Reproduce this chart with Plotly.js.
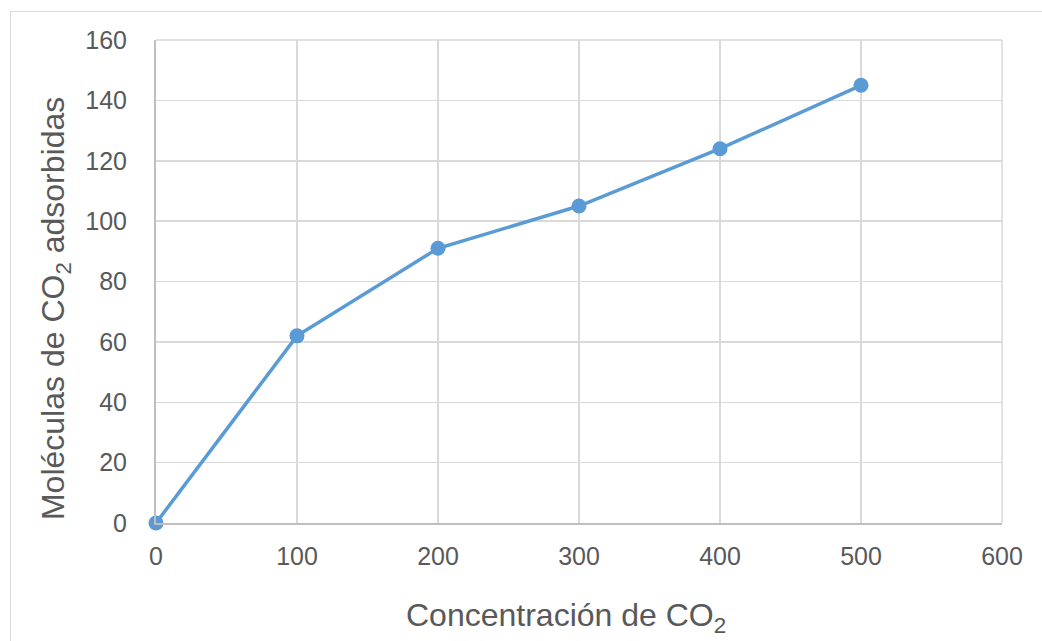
<!DOCTYPE html>
<html>
<head>
<meta charset="utf-8">
<script src="https://cdn.plot.ly/plotly-3.0.1.min.js"></script>
<style>
html,body{margin:0;padding:0;background:#fff;overflow:hidden;}
#frame{position:absolute;left:10px;top:11px;width:1100px;height:700px;border:1.5px solid #d9d9d9;box-sizing:border-box;pointer-events:none;z-index:5;}
#chart{position:absolute;left:0;top:0;width:1042px;height:641px;}
</style>
</head>
<body>
<div id="chart"></div>
<div id="frame"></div>
<script>
const concentracion = [0, 100, 200, 300, 400, 500];
const moleculas = [0, 62, 91, 105, 124, 145];
const xTicks = [0, 100, 200, 300, 400, 500, 600];
const yTicks = [0, 20, 40, 60, 80, 100, 120, 140, 160];
const xTitle = 'Concentración de CO<sub>2</sub>';
const yTitle = 'Moléculas de CO<sub>2</sub> adsorbidas';

const trace = {
  x: concentracion,
  y: moleculas,
  type: 'scatter',
  mode: 'lines+markers',
  line: {color: '#5b9bd5', width: 3.5},
  marker: {color: '#5b9bd5', size: 15},
  cliponaxis: false,
  hoverinfo: 'skip'
};

const axisCommon = {
  showgrid: true,
  gridcolor: '#d9d9d9',
  gridwidth: 1.5,
  zeroline: false,
  showline: true,
  linecolor: '#bfbfbf',
  linewidth: 2,
  tickcolor: 'rgba(0,0,0,0)',
  ticks: 'outside',
  tickfont: {size: 25, color: '#595959'}
};

const layout = {
  width: 1042,
  height: 641,
  margin: {l: 156, r: 40, t: 40, b: 118},
  paper_bgcolor: '#ffffff',
  plot_bgcolor: '#ffffff',
  showlegend: false,
  font: {family: 'Liberation Sans, Arial, sans-serif', color: '#595959', size: 24},
  xaxis: Object.assign({}, axisCommon, {
    range: [0, 600],
    tickvals: xTicks,
    ticktext: xTicks.map(String),
    ticklen: 10
  }),
  yaxis: Object.assign({}, axisCommon, {
    range: [0, 160],
    tickvals: yTicks,
    ticktext: yTicks.map(String),
    ticklen: 22
  }),
  annotations: [
    {text: xTitle, xref: 'paper', yref: 'paper', x: 0.4846, y: -0.195, xanchor: 'center', yanchor: 'middle',
     showarrow: false, font: {size: 32, color: '#595959'}},
    {text: yTitle, xref: 'paper', yref: 'paper', x: -0.1194, y: 0.445, xanchor: 'center', yanchor: 'middle',
     textangle: -90, showarrow: false, font: {size: 32, color: '#595959'}}
  ],
  shapes: [
    {type: 'line', xref: 'paper', yref: 'paper', x0: 1, x1: 1, y0: 0, y1: 1, line: {color: '#d9d9d9', width: 1.5}},
    {type: 'line', xref: 'paper', yref: 'paper', x0: 0, x1: 1, y0: 1, y1: 1, line: {color: '#d9d9d9', width: 1.5}}
  ]
};

Plotly.newPlot('chart', [trace], layout, {displayModeBar: false, staticPlot: true});
</script>
</body>
</html>
